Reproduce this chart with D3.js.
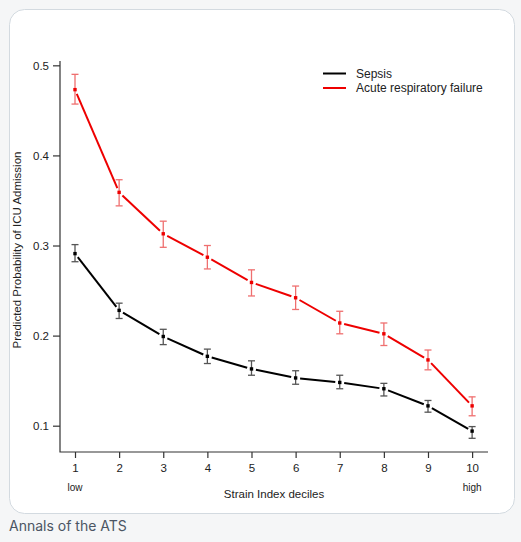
<!DOCTYPE html>
<html>
<head>
<meta charset="utf-8">
<script src="https://cdnjs.cloudflare.com/ajax/libs/d3/7.8.5/d3.min.js"></script>
<style>
  body { margin: 0; background: #f5f6f7; }
  #main { width: 521px; height: 542px; }
</style>
</head>
<body>
<div id="main"></div>
<script>
var deciles = [1, 2, 3, 4, 5, 6, 7, 8, 9, 10];
var yTicks = [0.1, 0.2, 0.3, 0.4, 0.5];

// sepsis
var sepsisEst = [0.291, 0.228, 0.199, 0.177, 0.163, 0.153, 0.148, 0.141, 0.122, 0.094];
var sepsisLo  = [0.282, 0.219, 0.190, 0.169, 0.156, 0.146, 0.141, 0.133, 0.115, 0.086];
var sepsisHi  = [0.301, 0.236, 0.207, 0.185, 0.172, 0.161, 0.156, 0.147, 0.128, 0.099];

// acute respiratory failure
var arfEst = [0.473, 0.359, 0.313, 0.287, 0.259, 0.242, 0.214, 0.202, 0.173, 0.122];
var arfLo  = [0.457, 0.344, 0.298, 0.274, 0.244, 0.229, 0.202, 0.189, 0.162, 0.111];
var arfHi  = [0.490, 0.373, 0.327, 0.300, 0.273, 0.255, 0.227, 0.214, 0.184, 0.132];

var seriesNames = ["Sepsis", "Acute respiratory failure"];

var width = 521, height = 542;
var chartFont = "'Liberation Sans', Arial, sans-serif";

var svg = d3.select("#main").append("svg")
  .attr("width", width)
  .attr("height", height)
  .style("font-family", chartFont);

// card
svg.append("rect")
  .attr("x", 9.5).attr("y", 9.5)
  .attr("width", 505).attr("height", 504)
  .attr("rx", 15).attr("ry", 15)
  .attr("fill", "white")
  .attr("stroke", "#d3dae0");

svg.append("text")
  .attr("x", 9).attr("y", 531)
  .attr("fill", "#4b5563")
  .style("font-size", "14px")
  .style("font-family", "Inter, sans-serif")
  .text("Annals of the ATS");

var x = d3.scaleLinear().domain([0.66, 10.36]).range([60, 488]);
var y = d3.scaleLinear().domain([0.0708, 0.5048]).range([452, 61]);

// L-shaped box
svg.append("path")
  .attr("d", "M" + x.range()[0] + "," + y.range()[1] + "V" + y.range()[0] + "H" + x.range()[1])
  .attr("fill", "none")
  .attr("stroke", "#333")
  .attr("stroke-width", 1.2);

var yAxis = svg.append("g")
  .attr("transform", "translate(60,0)")
  .call(d3.axisLeft(y).tickValues(yTicks).tickSize(7).tickPadding(4).tickFormat(d3.format(".1f")));
yAxis.select(".domain").remove();

var xAxis = svg.append("g")
  .attr("transform", "translate(0,452)")
  .call(d3.axisBottom(x).tickValues(deciles).tickSize(6).tickPadding(6).tickFormat(d3.format("d")));
xAxis.select(".domain").remove();

svg.selectAll(".tick line").attr("stroke", "#333").attr("stroke-width", 1.2);
svg.selectAll(".tick text").attr("fill", "#222").style("font-size", "11.5px")
  .style("font-family", chartFont);

svg.append("text")
  .attr("x", x(1)).attr("y", 491)
  .attr("text-anchor", "middle")
  .attr("fill", "#222")
  .style("font-size", "10px")
  .text("low");
svg.append("text")
  .attr("x", x(10)).attr("y", 491)
  .attr("text-anchor", "middle")
  .attr("fill", "#222")
  .style("font-size", "10px")
  .text("high");

svg.append("text")
  .attr("x", 274).attr("y", 498)
  .attr("text-anchor", "middle")
  .attr("fill", "#222")
  .style("font-size", "11.5px")
  .text("Strain Index deciles");

svg.append("text")
  .attr("transform", "translate(21,250) rotate(-90)")
  .attr("text-anchor", "middle")
  .attr("fill", "#222")
  .style("font-size", "11.5px")
  .text("Predicted Probability of ICU Admission");

function drawSeries(est, lo, hi, color, barColor) {
  var pts = deciles.map(function(d, i) {
    return {x: x(d), y: y(est[i]), lo: y(lo[i]), hi: y(hi[i])};
  });
  var g = svg.append("g");
  // line segments with gaps around points (type = "b")
  var gap = 4.5;
  for (var i = 0; i < pts.length - 1; i++) {
    var a = pts[i], b = pts[i + 1];
    var dx = b.x - a.x, dy = b.y - a.y, len = Math.sqrt(dx * dx + dy * dy);
    var ux = dx / len, uy = dy / len;
    g.append("line")
      .attr("x1", a.x + ux * gap).attr("y1", a.y + uy * gap)
      .attr("x2", b.x - ux * gap).attr("y2", b.y - uy * gap)
      .attr("stroke", color)
      .attr("stroke-width", 2);
  }
  // error bars
  var eb = g.selectAll(".eb").data(pts).enter().append("g").attr("class", "eb");
  eb.append("line")
    .attr("x1", function(d) { return d.x; }).attr("x2", function(d) { return d.x; })
    .attr("y1", function(d) { return d.lo; }).attr("y2", function(d) { return d.hi; })
    .attr("stroke", barColor).attr("stroke-width", 1.3);
  eb.append("line")
    .attr("x1", function(d) { return d.x - 3.5; }).attr("x2", function(d) { return d.x + 3.5; })
    .attr("y1", function(d) { return d.lo; }).attr("y2", function(d) { return d.lo; })
    .attr("stroke", barColor).attr("stroke-width", 1.3);
  eb.append("line")
    .attr("x1", function(d) { return d.x - 3.5; }).attr("x2", function(d) { return d.x + 3.5; })
    .attr("y1", function(d) { return d.hi; }).attr("y2", function(d) { return d.hi; })
    .attr("stroke", barColor).attr("stroke-width", 1.3);
  // points
  g.selectAll(".pt").data(pts).enter().append("rect")
    .attr("x", function(d) { return d.x - 1.7; })
    .attr("y", function(d) { return d.y - 1.7; })
    .attr("width", 3.4).attr("height", 3.4)
    .attr("fill", color);
}

drawSeries(sepsisEst, sepsisLo, sepsisHi, "#000", "#555");
drawSeries(arfEst, arfLo, arfHi, "#ee0000", "#ef6f6f");

// legend
var legendColors = ["#000", "#ee0000"];
var legend = svg.selectAll(".legend").data(seriesNames).enter().append("g")
  .attr("transform", function(d, i) { return "translate(323," + (73.5 + i * 14.5) + ")"; });
legend.append("line")
  .attr("x1", 0).attr("x2", 23)
  .attr("stroke", function(d, i) { return legendColors[i]; })
  .attr("stroke-width", 2);
legend.append("text")
  .attr("x", 33).attr("y", 4.2)
  .attr("fill", "#222")
  .style("font-size", "12px")
  .text(function(d) { return d; });
</script>
</body>
</html>
